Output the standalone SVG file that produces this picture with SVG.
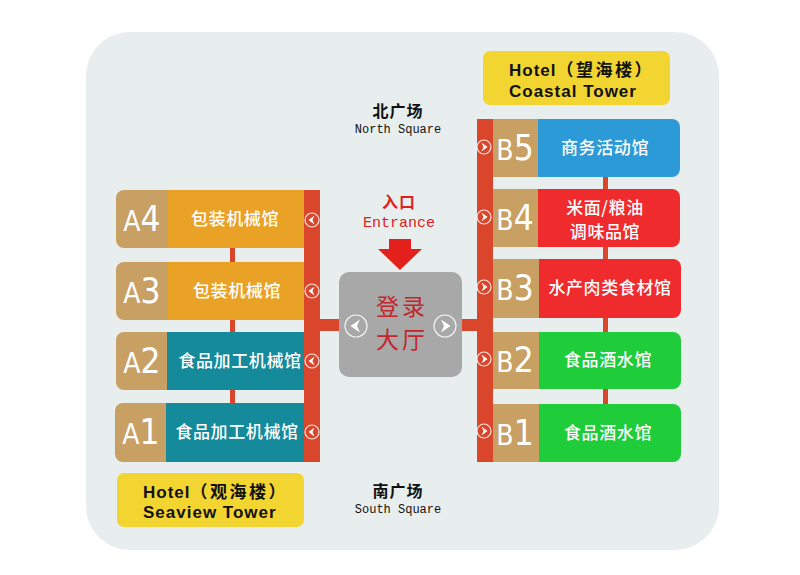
<svg xmlns="http://www.w3.org/2000/svg" xmlns:xlink="http://www.w3.org/1999/xlink" width="800" height="575" viewBox="0 0 800 575">
<style>
.tan{fill:#c8a064}
.or{fill:#e9a226}
.te{fill:#158a9b}
.bl{fill:#2d9ad8}
.rd{fill:#ef2b2e}
.gr{fill:#1fcc3a}
.bar{fill:#d9462c}
.yel{fill:#f3d531}
.code{font-family:"DejaVu Sans Condensed","DejaVu Sans",sans-serif;fill:#fff;text-anchor:middle}
.code .l{font-size:28px}
.code .d{font-size:35px}
.lab{font-family:"Noto Sans CJK SC",sans-serif;font-weight:500;font-size:17px;fill:#fff;text-anchor:middle;letter-spacing:0.6px}
.hotel{font-family:"Liberation Sans","Noto Sans CJK SC",sans-serif;font-weight:700;font-size:17px;fill:#111;letter-spacing:1px}
.hotel .cj{letter-spacing:2.5px}
.sqcn{font-family:"Noto Sans CJK SC",sans-serif;font-weight:700;font-size:16px;fill:#111;text-anchor:middle;letter-spacing:1px}
.sqen{font-family:"Liberation Mono",monospace;font-size:12px;fill:#111;text-anchor:middle}
.ent{fill:#e02020;text-anchor:middle}
.hall{font-family:"Noto Sans CJK SC",sans-serif;font-size:23px;fill:#c1272d;text-anchor:middle;letter-spacing:3px}
.ring{fill:none;stroke:#fff;stroke-opacity:0.85;stroke-width:1.2}
.chev{fill:#fff}
</style>
<defs>
<g id="sl"><circle class="ring" r="7"/><path class="chev" d="M2.5,-4.5 L-3.5,0 L2.5,4.5 L0.5,0 Z"/></g>
<g id="sr"><circle class="ring" r="7"/><path class="chev" d="M-2.5,-4.5 L3.5,0 L-2.5,4.5 L-0.5,0 Z"/></g>
<g id="bl"><circle class="ring" r="11" stroke-width="1.6"/><path class="chev" d="M4,-6.5 L-5.5,0 L4,6.5 L1,0 Z"/></g>
<g id="br"><circle class="ring" r="11" stroke-width="1.6"/><path class="chev" d="M-4,-6.5 L5.5,0 L-4,6.5 L-1,0 Z"/></g>
</defs>

<rect x="86" y="32" width="633" height="518" rx="44" fill="#e8eeee"/>

<g id="connectors">
  <rect class="bar" x="230" y="200" width="5" height="250"/>
  <rect class="bar" x="603" y="130" width="5" height="320"/>
  <rect class="bar" x="304" y="190" width="16" height="272"/>
  <rect class="bar" x="477" y="119" width="16" height="343"/>
  <rect class="bar" x="318" y="319" width="24" height="12"/>
  <rect class="bar" x="460" y="319" width="19" height="12"/>
  <use xlink:href="#sl" x="312" y="220"/>
  <use xlink:href="#sl" x="312" y="291"/>
  <use xlink:href="#sl" x="312" y="361"/>
  <use xlink:href="#sl" x="312" y="432"/>
  <use xlink:href="#sr" x="484" y="147"/>
  <use xlink:href="#sr" x="484" y="217"/>
  <use xlink:href="#sr" x="484" y="287"/>
  <use xlink:href="#sr" x="484" y="359"/>
  <use xlink:href="#sr" x="484" y="431"/>
</g>

<g id="hotel-coastal">
  <rect class="yel" x="483" y="51" width="187" height="54" rx="7"/>
  <text class="hotel" x="509" y="76">Hotel<tspan class="cj">（望海楼）</tspan></text>
  <text class="hotel" x="509" y="97">Coastal Tower</text>
</g>

<g id="north-square">
  <text class="sqcn" x="398" y="117">北广场</text>
  <text class="sqen" x="398" y="133">North Square</text>
</g>

<g id="entrance">
  <text class="ent" x="399" y="208" style="font-family:'Noto Sans CJK SC',sans-serif;font-weight:700;font-size:16px;letter-spacing:1px">入口</text>
  <text class="ent" x="399" y="227" style="font-family:'Liberation Mono',monospace;font-size:15px">Entrance</text>
  <path d="M389,239 H411 V249 H422 L400,270 L378,249 H389 Z" fill="#e3201b"/>
</g>

<g id="hall">
  <rect x="339" y="272" width="123" height="105" rx="10" fill="#a8a8a8"/>
  <text class="hall" x="402" y="315">登录</text>
  <text class="hall" x="402" y="348">大厅</text>
  <use xlink:href="#bl" x="356" y="326"/>
  <use xlink:href="#br" x="445" y="326"/>
</g>

<g id="A4">
  <rect class="tan" x="116" y="190" width="70" height="58" rx="8"/>
  <rect class="or" x="168" y="190" width="136" height="58"/>
  <text class="code" x="142" y="231"><tspan class="l">A</tspan><tspan class="d">4</tspan></text>
  <text class="lab" x="235" y="225">包装机械馆</text>
</g>
<g id="A3">
  <rect class="tan" x="116" y="262" width="70" height="58" rx="8"/>
  <rect class="or" x="168" y="262" width="136" height="58"/>
  <text class="code" x="142" y="303"><tspan class="l">A</tspan><tspan class="d">3</tspan></text>
  <text class="lab" x="237" y="297">包装机械馆</text>
</g>
<g id="A2">
  <rect class="tan" x="116" y="332" width="70" height="58" rx="8"/>
  <rect class="te" x="167" y="332" width="137" height="58"/>
  <text class="code" x="142" y="373"><tspan class="l">A</tspan><tspan class="d">2</tspan></text>
  <text class="lab" x="240" y="367">食品加工机械馆</text>
</g>
<g id="A1">
  <rect class="tan" x="115" y="403" width="70" height="59" rx="8"/>
  <rect class="te" x="166" y="403" width="138" height="59"/>
  <text class="code" x="141" y="444"><tspan class="l">A</tspan><tspan class="d">1</tspan></text>
  <text class="lab" x="237" y="438">食品加工机械馆</text>
</g>

<g id="B5">
  <rect class="bl" x="493" y="119" width="187" height="58" rx="8"/>
  <rect class="tan" x="493" y="119" width="45" height="58"/>
  <text class="code" x="515" y="160"><tspan class="l">B</tspan><tspan class="d">5</tspan></text>
  <text class="lab" x="605" y="154">商务活动馆</text>
</g>
<g id="B4">
  <rect class="rd" x="493" y="189" width="187" height="58" rx="8"/>
  <rect class="tan" x="493" y="189" width="45" height="58"/>
  <text class="code" x="515" y="230"><tspan class="l">B</tspan><tspan class="d">4</tspan></text>
  <text class="lab" x="605" y="214">米面/粮油</text>
  <text class="lab" x="605" y="238">调味品馆</text>
</g>
<g id="B3">
  <rect class="rd" x="493" y="259" width="188" height="59" rx="8"/>
  <rect class="tan" x="493" y="259" width="46" height="59"/>
  <text class="code" x="515" y="300"><tspan class="l">B</tspan><tspan class="d">3</tspan></text>
  <text class="lab" x="610" y="294">水产肉类食材馆</text>
</g>
<g id="B2">
  <rect class="gr" x="493" y="332" width="188" height="57" rx="8"/>
  <rect class="tan" x="493" y="332" width="46" height="57"/>
  <text class="code" x="515" y="372"><tspan class="l">B</tspan><tspan class="d">2</tspan></text>
  <text class="lab" x="608" y="366">食品酒水馆</text>
</g>
<g id="B1">
  <rect class="gr" x="493" y="404" width="188" height="58" rx="8"/>
  <rect class="tan" x="493" y="404" width="46" height="58"/>
  <text class="code" x="515" y="445"><tspan class="l">B</tspan><tspan class="d">1</tspan></text>
  <text class="lab" x="608" y="439">食品酒水馆</text>
</g>

<g id="hotel-seaview">
  <rect class="yel" x="117" y="473" width="187" height="54" rx="7"/>
  <text class="hotel" x="143" y="498">Hotel<tspan class="cj">（观海楼）</tspan></text>
  <text class="hotel" x="143" y="518">Seaview Tower</text>
</g>

<g id="south-square">
  <text class="sqcn" x="398" y="497">南广场</text>
  <text class="sqen" x="398" y="513">South Square</text>
</g>
</svg>
